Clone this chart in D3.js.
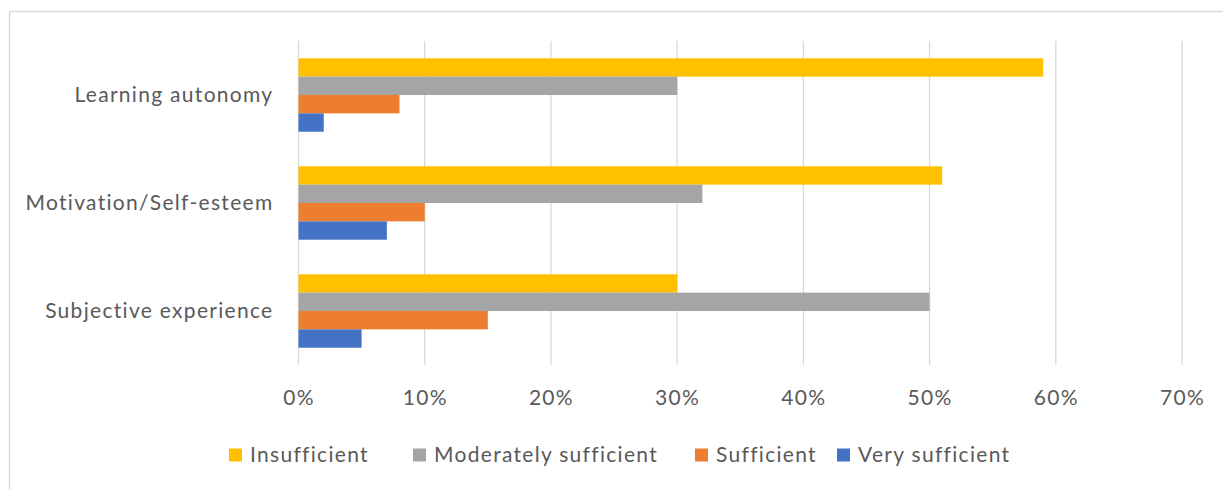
<!DOCTYPE html>
<html>
<head>
<meta charset="utf-8">
<script src="https://cdn.jsdelivr.net/npm/d3@7"></script>
<style>
  html, body { margin: 0; padding: 0; background: #fff; }
  svg { display: block; }
  text { font-family: Lato, "Open Sans", sans-serif; fill: #595959; letter-spacing: 1.3px; }
</style>
</head>
<body>
<svg id="chart" width="1223" height="489"></svg>
<script>
// Categories (top to bottom) and series, in the order they are stacked inside each group
const categories = ["Learning autonomy", "Motivation/Self-esteem", "Subjective experience"];
const seriesNames = ["Insufficient", "Moderately sufficient", "Sufficient", "Very sufficient"];
const seriesColors = ["#FFC000", "#A5A5A5", "#ED7D31", "#4472C4"];

// Percentages per series, one value per category
const insufficient = [59, 51, 30];
const moderatelySufficient = [30, 32, 50];
const sufficient = [8, 10, 15];
const verySufficient = [2, 7, 5];

const tickValues = [0, 10, 20, 30, 40, 50, 60, 70];

const seriesValues = [insufficient, moderatelySufficient, sufficient, verySufficient];

const svg = d3.select("#chart");
const W = 1223, H = 489;
const FONT = "21px";

// Chart frame (runs off the right and bottom edges)
svg.append("rect")
  .attr("x", 9.5).attr("y", 11.5)
  .attr("width", W + 10).attr("height", H + 10)
  .attr("fill", "#fff").attr("stroke", "#D9D9D9").attr("stroke-width", 1.5);

const plot = { left: 298.5, right: 1182, top: 41, bottom: 365 };

const x = d3.scaleLinear().domain([0, 70]).range([plot.left, plot.right]);
const y = d3.scaleBand().domain(categories).range([plot.top, plot.bottom]).padding(0);
const groupFrac = 0.68;
const inner = d3.scaleBand().domain(seriesNames)
  .range([0, y.bandwidth() * groupFrac]).padding(0);
const groupOffset = y.bandwidth() * (1 - groupFrac) / 2;

// Vertical gridlines
svg.append("g")
  .selectAll("line")
  .data(tickValues)
  .join("line")
  .attr("x1", d => x(d)).attr("x2", d => x(d))
  .attr("y1", plot.top).attr("y2", plot.bottom)
  .attr("stroke", "#D9D9D9").attr("stroke-width", 1.3);

// Bars
const rows = [];
seriesNames.forEach((s, si) => {
  categories.forEach((c, ci) => {
    rows.push({ series: s, cat: c, value: seriesValues[si][ci], color: seriesColors[si] });
  });
});

svg.append("g")
  .selectAll("rect")
  .data(rows)
  .join("rect")
  .attr("x", x(0))
  .attr("y", d => y(d.cat) + groupOffset + inner(d.series))
  .attr("width", d => x(d.value) - x(0))
  .attr("height", inner.bandwidth())
  .attr("fill", d => d.color);

// X axis tick labels
const xAxis = d3.axisBottom(x).tickValues(tickValues).tickFormat(d => d + "%").tickSize(0).tickPadding(0);
const gx = svg.append("g").attr("transform", `translate(0, ${plot.bottom})`).call(xAxis);
gx.select(".domain").remove();
gx.selectAll("text")
  .attr("y", 40)
  .attr("dy", null)
  .style("font-size", FONT)
  .style("font-family", "Lato, 'Open Sans', sans-serif")
  .attr("fill", "#595959");

// Category labels
const yAxis = d3.axisLeft(y).tickSize(0).tickPadding(25);
const gy = svg.append("g").attr("transform", `translate(${plot.left}, 0)`).call(yAxis);
gy.select(".domain").remove();
gy.selectAll("text")
  .style("font-size", FONT)
  .style("font-family", "Lato, 'Open Sans', sans-serif")
  .attr("fill", "#595959");

// Legend
const legendX = [229, 413, 695, 837];
const legendY = 455;
const legend = svg.append("g")
  .selectAll("g")
  .data(seriesNames)
  .join("g")
  .attr("transform", (d, i) => `translate(${legendX[i]}, ${legendY})`);
legend.append("rect")
  .attr("x", 0).attr("y", -6.5)
  .attr("width", 13).attr("height", 13)
  .attr("fill", (d, i) => seriesColors[i]);
legend.append("text")
  .attr("x", 21).attr("y", 0).attr("dy", "0.35em")
  .style("font-size", FONT)
  .text(d => d);
</script>
</body>
</html>
